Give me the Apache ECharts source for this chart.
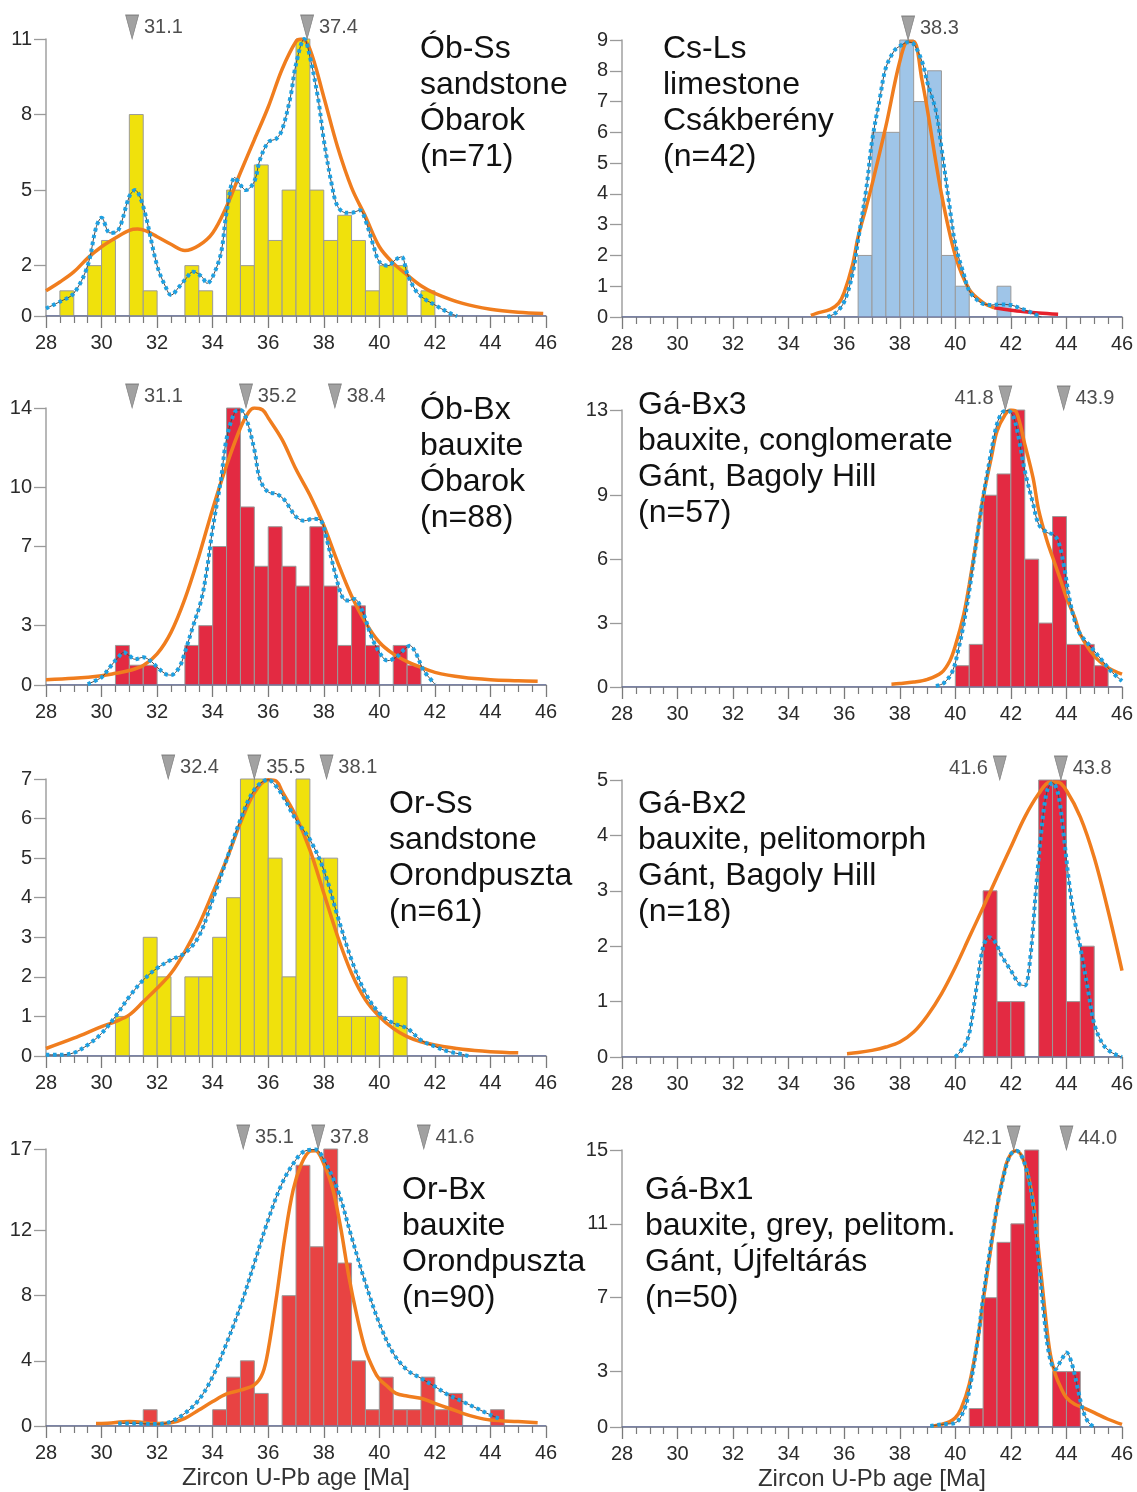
<!DOCTYPE html>
<html><head><meta charset="utf-8">
<script src="https://cdn.jsdelivr.net/npm/echarts@6/dist/echarts.min.js"></script>
<style>html,body{margin:0;padding:0;background:#fff}#c{width:1137px;height:1492px}</style>
</head><body><div id="c"></div>
<script>
const FONT = '"Liberation Sans", Arial, Helvetica, sans-serif';
const BIN = 0.5;
const xTicksMin = 28, xTicksMax = 46, xTickStep = 2;
const baseline = [[28,0],[46,0]];

// ---------- Ób-Ss ----------
const obSsBins   = [28.5,29.5,30,31,31.5,33,33.5,34.5,35,35.5,36,36.5,37,37.5,38,38.5,39,39.5,40,40.5,41.5];
const obSsCounts = [1,2,3,8,1,2,1,5,2,6,3,5,11,5,3,4,3,1,2,2,1];
const obSsKde = [[28,1.0],[28.5,1.35],[29,1.75],[29.5,2.3],[30,2.75],[30.5,3.1],[31,3.4],[31.3,3.45],[31.6,3.38],[32,3.15],[32.5,2.85],[33,2.6],[33.5,2.8],[34,3.3],[34.5,4.35],[35,5.7],[35.5,7.0],[36,8.3],[36.5,9.8],[37,10.9],[37.2,11.0],[37.5,10.6],[38,8.7],[38.5,6.7],[39,5.1],[39.5,3.95],[40,2.75],[40.5,2.1],[41,1.63],[41.5,1.2],[42,0.9],[43,0.5],[44,0.27],[45,0.15],[45.9,0.1]];
const obSsPdp = [[28,0.3],[28.5,0.57],[29,0.9],[29.5,2.0],[29.8,3.5],[30,3.9],[30.3,3.3],[30.6,3.4],[31,4.75],[31.2,5.0],[31.5,4.35],[32,2.0],[32.3,1.17],[32.5,0.83],[32.8,1.17],[33,1.43],[33.3,1.76],[33.6,1.57],[33.8,1.3],[34,1.56],[34.3,2.5],[34.5,4.1],[34.8,5.5],[35,5.2],[35.2,5.0],[35.5,5.35],[35.7,6.2],[36,6.9],[36.3,7.05],[36.5,7.4],[36.8,8.7],[37,10.0],[37.3,11.0],[37.5,10.3],[37.8,8.6],[38,7.0],[38.3,5.15],[38.5,4.35],[38.8,4.1],[39,4.1],[39.3,4.2],[39.5,3.8],[39.8,2.75],[40,2.15],[40.3,2.0],[40.6,2.25],[40.8,2.35],[41,1.7],[41.3,1.03],[41.6,0.7],[42,0.44],[42.5,0.13],[42.8,0]];
const obSsModes = [31.1, 37.4];
const obSsYTicks = [0,2,5,8,11];
const obSsTitle = ['Ób-Ss','sandstone','Óbarok','(n=71)'];

// ---------- Cs-Ls ----------
const csLsBins   = [36.5,37,37.5,38,38.5,39,39.5,40,41.5];
const csLsCounts = [2,6,6,9,7,8,2,1,1];
const csLsKde = [[34.8,0.05],[35,0.12],[35.5,0.25],[35.8,0.45],[36,0.8],[36.3,1.7],[36.5,2.6],[36.8,3.6],[37,4.3],[37.5,6.2],[38,8.3],[38.3,8.95],[38.5,8.95],[38.8,7.7],[39,6.7],[39.5,4.0],[40,2.0],[40.5,0.9],[41,0.47],[41.4,0.3]];
const csLsKdeTail = [[41.4,0.3],[42,0.22],[42.5,0.17],[43,0.13],[43.7,0.09]];
const csLsPdp = [[35.4,0],[35.7,0.14],[36,0.5],[36.3,1.4],[36.5,2.5],[36.8,4.2],[37,5.7],[37.3,7.2],[37.5,8.1],[37.8,8.65],[38,8.8],[38.3,8.93],[38.5,8.87],[38.8,8.3],[39,7.6],[39.3,6.7],[39.5,5.5],[39.8,3.55],[40,2.36],[40.3,1.4],[40.5,0.85],[40.8,0.54],[41,0.43],[41.3,0.39],[41.6,0.41],[42,0.39],[42.3,0.3],[42.6,0.2],[43,0.03],[43.1,0]];
const csLsModes = [38.3];
const csLsYTicks = [0,1,2,3,4,5,6,7,8,9];
const csLsTitle = ['Cs-Ls','limestone','Csákberény','(n=42)'];

// ---------- Ób-Bx ----------
const obBxBins   = [30.5,31,31.5,33,33.5,34,34.5,35,35.5,36,36.5,37,37.5,38,38.5,39,39.5,40.5,41];
const obBxCounts = [2,1,1,2,3,7,14,9,6,8,6,5,8,5,2,4,2,2,1];
const obBxKde = [[28,0.27],[29,0.34],[30,0.47],[30.5,0.59],[31,0.73],[31.5,0.98],[32,1.57],[32.5,2.66],[33,4.35],[33.5,6.5],[34,8.9],[34.5,11.1],[35,13.0],[35.3,13.8],[35.5,14.0],[35.8,13.9],[36,13.5],[36.5,12.4],[37,10.9],[37.5,9.6],[38,8.06],[38.5,6.2],[39,4.5],[39.5,3.17],[40,2.16],[40.5,1.57],[41,1.18],[41.5,0.89],[42,0.64],[43,0.39],[44,0.27],[45,0.22],[45.7,0.19]];
const obBxPdp = [[29.5,0.05],[30,0.39],[30.3,0.9],[30.6,1.4],[30.8,1.65],[31,1.48],[31.2,1.3],[31.5,1.4],[31.8,1.18],[32,0.9],[32.3,0.56],[32.5,0.5],[32.8,0.9],[33,1.65],[33.3,3.0],[33.6,4.35],[33.8,5.9],[34,7.9],[34.3,10.4],[34.5,12.45],[34.8,13.8],[35,13.9],[35.2,13.5],[35.5,11.9],[35.7,10.4],[36,9.75],[36.3,9.66],[36.6,9.33],[36.8,8.9],[37,8.5],[37.3,8.3],[37.6,8.4],[37.9,8.3],[38.1,7.4],[38.4,5.7],[38.7,4.35],[38.9,4.27],[39.1,4.35],[39.4,3.7],[39.7,2.5],[40,1.65],[40.3,1.23],[40.6,1.4],[40.9,1.8],[41.1,1.99],[41.3,1.65],[41.6,0.73],[42,0.05]];
const obBxModes = [31.1, 35.2, 38.4];
const obBxYTicks = [0,3,7,10,14];
const obBxTitle = ['Ób-Bx','bauxite','Óbarok','(n=88)'];

// ---------- Gá-Bx3 ----------
const gaBx3Bins   = [40,40.5,41,41.5,42,42.5,43,43.5,44,44.5,45];
const gaBx3Counts = [1,2,9,10,13,6,3,8,2,2,1];
const gaBx3Kde = [[37.7,0.13],[38,0.16],[38.5,0.23],[39,0.36],[39.5,0.67],[39.8,1.22],[40,1.93],[40.3,3.4],[40.5,4.8],[40.8,7.2],[41,8.9],[41.3,10.8],[41.5,12.0],[41.8,12.8],[42,13.0],[42.2,12.9],[42.5,11.4],[42.8,9.8],[43,8.3],[43.3,6.86],[43.5,6.1],[43.8,4.98],[44,4.2],[44.3,3.26],[44.5,2.47],[45,1.46],[45.5,0.91],[46,0.6]];
const gaBx3Pdp = [[39.3,0.05],[39.6,0.2],[39.9,0.75],[40.1,1.7],[40.3,2.95],[40.5,4.5],[40.8,7.2],[41,8.9],[41.3,11.1],[41.5,12.34],[41.7,12.9],[41.9,12.97],[42.1,12.65],[42.3,11.56],[42.5,10.15],[42.8,8.6],[43,7.64],[43.3,7.25],[43.5,7.17],[43.7,6.86],[43.9,5.76],[44.1,4.2],[44.3,3.1],[44.5,2.47],[44.8,2.0],[45,1.69],[45.3,1.22],[45.6,0.75],[46,0.28]];
const gaBx3Modes = [41.8, 43.9];
const gaBx3YTicks = [0,3,6,9,13];
const gaBx3Title = ['Gá-Bx3','bauxite, conglomerate','Gánt, Bagoly Hill','(n=57)'];

// ---------- Or-Ss ----------
const orSsBins   = [30.5,31.5,32,32.5,33,33.5,34,34.5,35,35.5,36,36.5,37,37.5,38,38.5,39,39.5,40.5];
const orSsCounts = [1,3,2,1,2,2,3,4,7,7,5,2,7,5,5,1,1,1,2];
const orSsKde = [[28,0.19],[29,0.45],[30,0.74],[30.5,0.87],[31,1.04],[31.5,1.37],[32,1.71],[32.5,2.09],[33,2.64],[33.5,3.31],[34,4.12],[34.5,4.96],[35,5.89],[35.5,6.65],[36,6.98],[36.3,6.94],[36.5,6.69],[37,6.06],[37.5,5.21],[38,4.12],[38.5,3.02],[39,2.09],[39.5,1.42],[40,1.0],[40.5,0.7],[41,0.49],[41.5,0.36],[42,0.28],[43,0.17],[44,0.11],[45,0.08]];
const orSsPdp = [[28,0.03],[28.5,0.03],[29,0.08],[29.5,0.28],[30,0.57],[30.5,1.0],[31,1.5],[31.5,1.92],[32,2.22],[32.5,2.43],[33,2.6],[33.5,3.02],[34,3.95],[34.5,4.96],[35,5.97],[35.5,6.73],[36,6.98],[36.3,6.8],[36.5,6.6],[37,5.97],[37.5,5.47],[38,4.7],[38.5,3.53],[39,2.43],[39.5,1.59],[40,1.08],[40.5,0.83],[41,0.7],[41.5,0.4],[42,0.24],[42.5,0.11],[43,0.04],[43.2,0]];
const orSsModes = [32.4, 35.5, 38.1];
const orSsYTicks = [0,1,2,3,4,5,6,7];
const orSsTitle = ['Or-Ss','sandstone','Orondpuszta','(n=61)'];

// ---------- Gá-Bx2 ----------
const gaBx2Bins   = [41,41.5,42,43,43.5,44,44.5];
const gaBx2Counts = [3,1,1,5,5,1,2];
const gaBx2Kde = [[36.1,0.06],[36.5,0.08],[37,0.12],[37.5,0.18],[38,0.27],[38.5,0.45],[39,0.75],[39.5,1.14],[40,1.62],[40.5,2.16],[41,2.7],[41.5,3.25],[42,3.79],[42.5,4.33],[43,4.75],[43.4,4.96],[43.7,4.96],[44,4.81],[44.5,4.33],[45,3.6],[45.5,2.64],[46,1.56]];
const gaBx2Pdp = [[40,0],[40.3,0.18],[40.5,0.42],[40.8,1.38],[41,1.98],[41.2,2.16],[41.4,2.1],[41.7,1.8],[42,1.56],[42.3,1.32],[42.5,1.29],[42.7,1.8],[42.9,3.0],[43.1,4.09],[43.3,4.8],[43.5,4.95],[43.7,4.75],[43.9,4.01],[44.1,3.13],[44.3,2.46],[44.5,1.98],[44.8,1.14],[45,0.6],[45.3,0.24],[45.6,0.09],[46,0]];
const gaBx2Modes = [41.6, 43.8];
const gaBx2YTicks = [0,1,2,3,4,5];
const gaBx2Title = ['Gá-Bx2','bauxite, pelitomorph','Gánt, Bagoly Hill','(n=18)'];

// ---------- Or-Bx ----------
const orBxBins   = [31.5,34,34.5,35,35.5,36.5,37,37.5,38,38.5,39,39.5,40,40.5,41,41.5,42,42.5,44];
const orBxCounts = [1,1,3,4,2,8,16,11,17,10,4,1,3,1,1,3,1,2,1];
const orBxKde = [[29.8,0.16],[30,0.16],[31,0.27],[32,0.16],[32.5,0.2],[33,0.47],[33.5,0.98],[34,1.5],[34.5,1.97],[35,2.2],[35.5,2.52],[35.8,3.24],[36,4.67],[36.3,7.95],[36.6,11.6],[36.9,14.5],[37.2,16.1],[37.5,16.86],[37.7,16.9],[38,16.1],[38.3,14.7],[38.6,12.25],[38.9,9.2],[39.2,6.7],[39.5,4.67],[39.8,3.44],[40,2.87],[40.3,2.42],[40.6,2.0],[41,1.84],[41.5,1.7],[42,1.39],[42.5,1.09],[43,0.78],[43.5,0.53],[44,0.37],[45,0.27],[45.7,0.2]];
const orBxPdp = [[30.6,0.16],[31,0.16],[32,0.12],[32.5,0.27],[33,0.78],[33.5,1.6],[34,3.03],[34.5,5.08],[35,7.34],[35.5,10.0],[36,12.66],[36.5,14.9],[37,16.35],[37.3,16.86],[37.7,16.97],[38,16.35],[38.5,14.5],[39,11.6],[39.5,8.77],[40,6.3],[40.5,4.47],[41,3.44],[41.5,2.93],[42,2.42],[42.5,1.9],[43,1.5],[43.5,1.09],[44,0.68],[44.3,0.47]];
const orBxModes = [35.1, 37.8, 41.6];
const orBxYTicks = [0,4,8,12,17];
const orBxTitle = ['Or-Bx','bauxite','Orondpuszta','(n=90)'];

// ---------- Gá-Bx1 ----------
const gaBx1Bins   = [40.5,41,41.5,42,42.5,43.5,44];
const gaBx1Counts = [1,7,10,11,15,3,3];
const gaBx1Kde = [[39.2,0.05],[39.5,0.14],[39.8,0.29],[40,0.5],[40.2,0.96],[40.5,2.31],[40.8,4.66],[41,6.83],[41.3,9.9],[41.5,11.9],[41.8,14.06],[42,14.78],[42.2,14.96],[42.5,14.25],[42.8,12.25],[43,9.54],[43.2,6.65],[43.4,4.12],[43.6,2.86],[43.8,2.13],[44,1.59],[44.3,1.23],[44.6,1.05],[45,0.78],[45.5,0.42],[46,0.14]];
const gaBx1Pdp = [[39.1,0.05],[39.5,0.14],[40,0.23],[40.3,0.87],[40.5,1.95],[40.8,4.66],[41,7.0],[41.3,10.08],[41.5,11.9],[41.8,13.97],[42,14.78],[42.2,14.96],[42.5,14.25],[42.8,12.07],[43,9.0],[43.2,5.93],[43.4,3.76],[43.6,3.13],[43.8,3.58],[44,4.03],[44.2,3.4],[44.4,2.13],[44.6,0.87],[44.8,0.23],[45,0]];
const gaBx1Modes = [42.1, 44.0];
const gaBx1YTicks = [0,3,7,11,15];
const gaBx1Title = ['Gá-Bx1','bauxite, grey, pelitom.','Gánt, Újfeltárás','(n=50)'];

const xAxisName = 'Zircon U-Pb age [Ma]';

// ---------- colours ----------
const YELLOW = '#f0e10c', RED = '#e32a42', RED2 = '#e84343', LBLUE = '#9fc5e8';
const ORANGE = '#f07d1e', DOTBLUE = '#1ea0e1', GREYLINE = '#4a4a4a', AXIS = '#7a7a7a', YTICK = '#9a9a9a';

// ---------- panel layout ----------
const panels = [
  {bins:obSsBins, counts:obSsCounts, kde:obSsKde, pdp:obSsPdp, modes:obSsModes, modeSide:['right','right'], yTicks:obSsYTicks, color:YELLOW, title:obSsTitle, left:46, top:39, tx:420, ty:31},
  {bins:csLsBins, counts:csLsCounts, kde:csLsKde, pdp:csLsPdp, modes:csLsModes, modeSide:['right'], yTicks:csLsYTicks, color:LBLUE, title:csLsTitle, left:622, top:40, tx:663, ty:31, tail:csLsKdeTail},
  {bins:obBxBins, counts:obBxCounts, kde:obBxKde, pdp:obBxPdp, modes:obBxModes, modeSide:['right','right','right'], yTicks:obBxYTicks, color:RED, title:obBxTitle, left:46, top:408, tx:420, ty:392},
  {bins:gaBx3Bins, counts:gaBx3Counts, kde:gaBx3Kde, pdp:gaBx3Pdp, modes:gaBx3Modes, modeSide:['left','right'], yTicks:gaBx3YTicks, color:RED, title:gaBx3Title, left:622, top:410, tx:638, ty:387},
  {bins:orSsBins, counts:orSsCounts, kde:orSsKde, pdp:orSsPdp, modes:orSsModes, modeSide:['right','right','right'], yTicks:orSsYTicks, color:YELLOW, title:orSsTitle, left:46, top:779, tx:389, ty:786},
  {bins:gaBx2Bins, counts:gaBx2Counts, kde:gaBx2Kde, pdp:gaBx2Pdp, modes:gaBx2Modes, modeSide:['left','right'], yTicks:gaBx2YTicks, color:RED, title:gaBx2Title, left:622, top:780, tx:638, ty:786},
  {bins:orBxBins, counts:orBxCounts, kde:orBxKde, pdp:orBxPdp, modes:orBxModes, modeSide:['right','right','right'], yTicks:orBxYTicks, color:RED2, title:orBxTitle, left:46, top:1149, tx:402, ty:1172, xname:true},
  {bins:gaBx1Bins, counts:gaBx1Counts, kde:gaBx1Kde, pdp:gaBx1Pdp, modes:gaBx1Modes, modeSide:['left','right'], yTicks:gaBx1YTicks, color:RED, title:gaBx1Title, left:622, top:1150, tx:645, ty:1172, xname:true}
];

const grids = [], xAxes = [], yAxes = [], series = [], graphics = [];
panels.forEach((p, i) => {
  const ymax = p.yTicks[p.yTicks.length - 1];
  grids.push({left:p.left, top:p.top, width:500, height:277});
  xAxes.push({
    type:'value', gridIndex:i, min:xTicksMin, max:xTicksMax, interval:xTickStep,
    axisLine:{show:true, lineStyle:{color:AXIS, width:1.5}},
    axisTick:{show:true, length:12, lineStyle:{color:AXIS, width:1.3}},
    minorTick:{show:true, splitNumber:4, length:7, lineStyle:{color:AXIS, width:1.2}},
    splitLine:{show:false}, minorSplitLine:{show:false},
    axisLabel:{fontSize:20, color:'#2a2a2a', margin:17, fontFamily:FONT},
    name: p.xname ? xAxisName : '', nameLocation:'middle', nameGap:40,
    nameTextStyle:{fontSize:24, color:'#333', fontFamily:FONT}
  });
  yAxes.push({
    type:'value', gridIndex:i, min:0, max:ymax,
    axisLine:{show:true, lineStyle:{color:'#a0a0a0', width:1.5}},
    axisTick:{show:true, length:12, customValues:p.yTicks, lineStyle:{color:YTICK, width:1.3}},
    axisLabel:{customValues:p.yTicks, fontSize:20, color:'#2a2a2a', margin:14, fontFamily:FONT},
    splitLine:{show:false}
  });
  const fill = p.color;
  series.push({
    type:'custom', xAxisIndex:i, yAxisIndex:i, z:2,
    data: p.bins.map((b, k) => [b, p.counts[k]]),
    renderItem: (params, api) => {
      const x0 = api.value(0), c = api.value(1);
      const a = api.coord([x0, c]);
      const b = api.coord([x0 + BIN, 0]);
      return {type:'rect', shape:{x:a[0], y:a[1], width:b[0]-a[0], height:b[1]-a[1]},
              style:{fill:fill, stroke:'#9a9a9a', lineWidth:1}};
    }
  });
  series.push({type:'line', xAxisIndex:i, yAxisIndex:i, data:baseline, showSymbol:false, z:3,
    lineStyle:{color:'#5d6cae', width:1.2}});
  series.push({type:'line', xAxisIndex:i, yAxisIndex:i, data:p.kde, smooth:0.35, showSymbol:false, z:3,
    lineStyle:{color:ORANGE, width:3.5}});
  if (p.tail) series.push({type:'line', xAxisIndex:i, yAxisIndex:i, data:p.tail, smooth:0.35, showSymbol:false, z:3,
    lineStyle:{color:'#e6202c', width:3.5}});
  series.push({type:'line', xAxisIndex:i, yAxisIndex:i, data:p.pdp, smooth:0.35, showSymbol:false, z:4,
    lineStyle:{color:GREYLINE, width:1}});
  series.push({type:'line', xAxisIndex:i, yAxisIndex:i, data:p.pdp, smooth:0.35, showSymbol:false, z:5,
    lineStyle:{color:DOTBLUE, width:4, type:[3.5,3.5]}});
  series.push({type:'scatter', xAxisIndex:i, yAxisIndex:i, z:6, clip:false,
    symbol:'path://M0,0L14,0L7,24Z', symbolSize:[13,24], symbolOffset:[0,-12],
    itemStyle:{color:'#8a8a8a', borderColor:'#6a6a6a', borderWidth:0.8},
    data: p.modes.map((m, k) => ({value:[m, ymax], label:{position:p.modeSide[k]}})),
    label:{show:true, distance:5, fontSize:20, color:'#222', fontFamily:FONT,
      formatter: d => d.value[0].toFixed(1)}
  });
  graphics.push({type:'text', x:p.tx, y:p.ty, style:{text:p.title.join('\n'), font:'32px ' + FONT, lineHeight:36, fill:'#111'}});
});

const chart = echarts.init(document.getElementById('c'), null, {renderer:'canvas'});
chart.setOption({animation:false, backgroundColor:'#fff', grid:grids, xAxis:xAxes, yAxis:yAxes, series:series, graphic:graphics});
</script></body></html>
